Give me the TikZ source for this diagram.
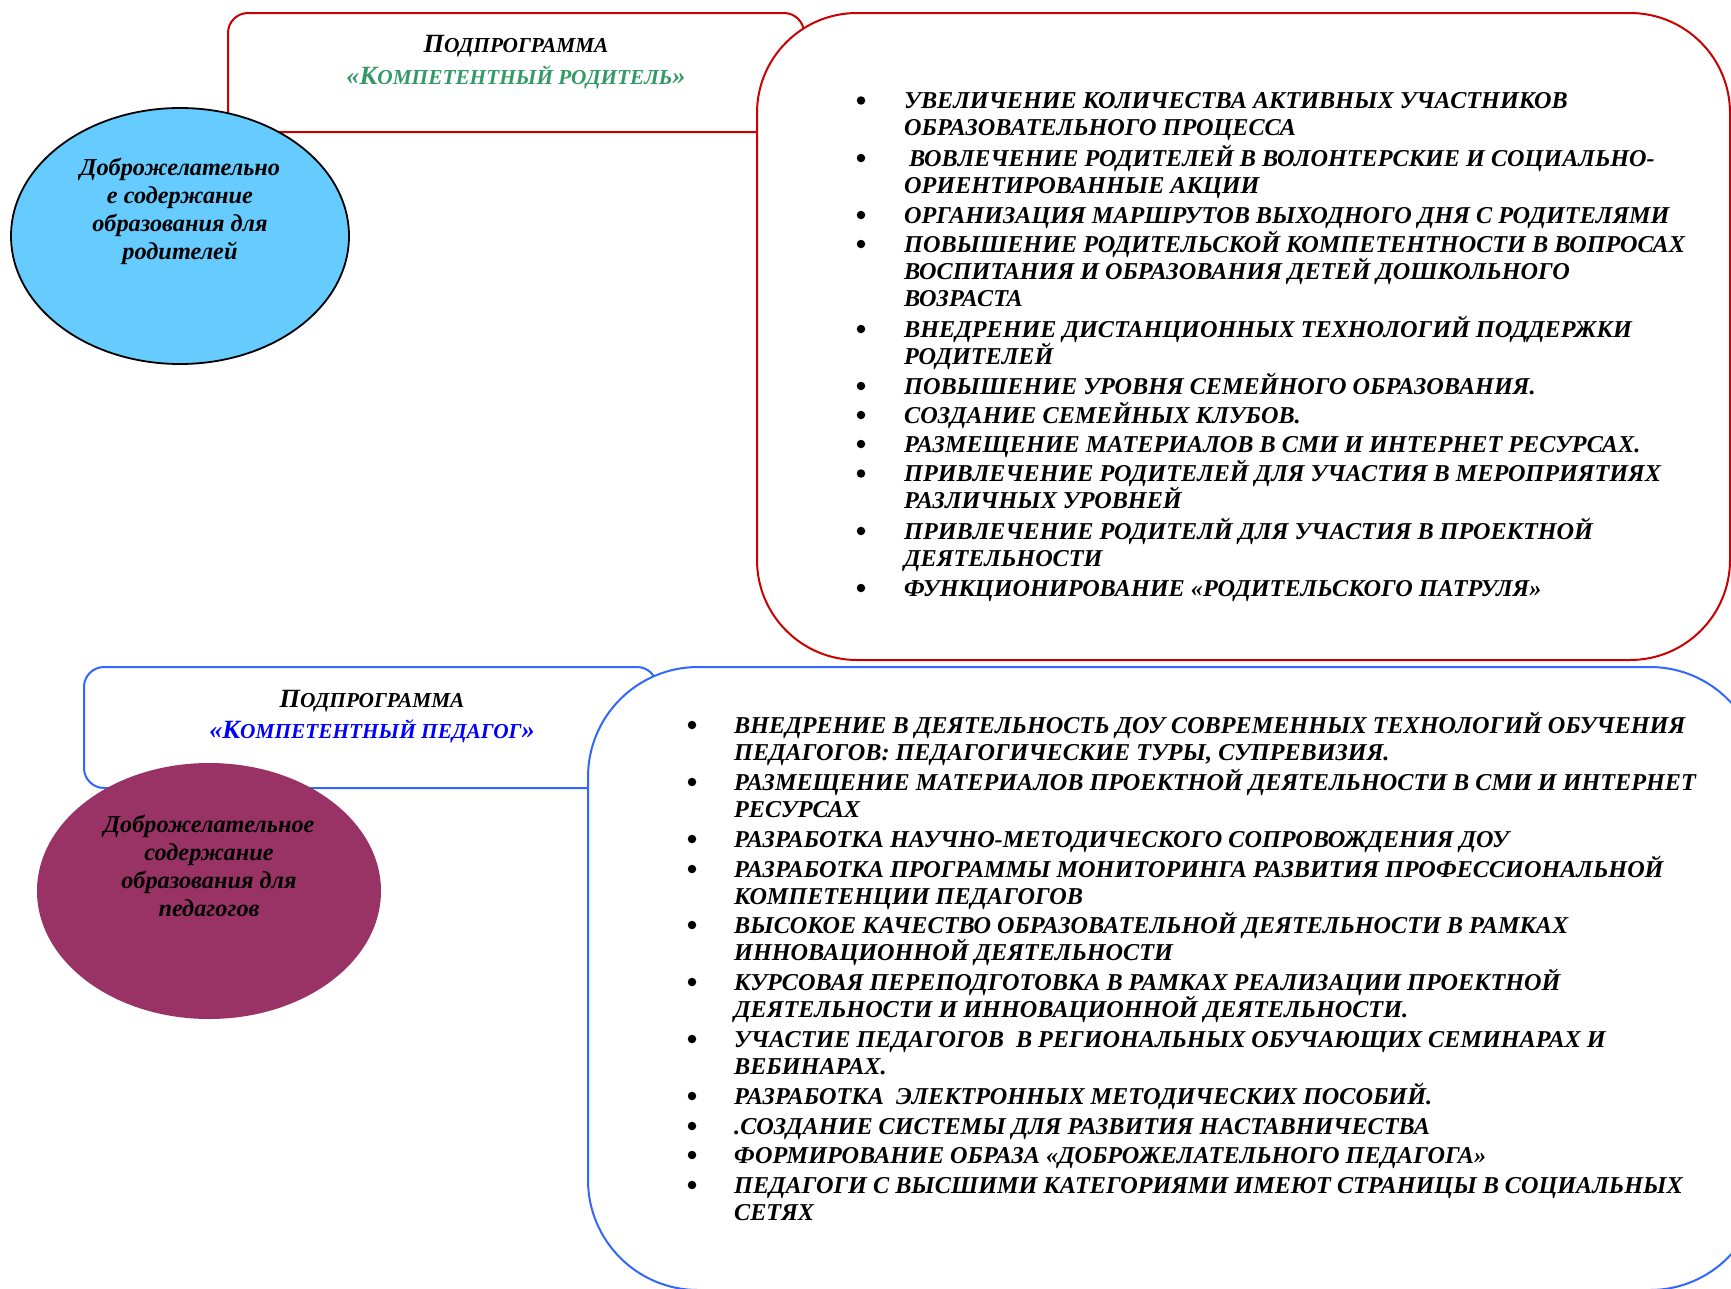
\documentclass[tikz,border=0pt]{standalone}
\usepackage{fontspec}
\setmainfont{Liberation Serif}
\usetikzlibrary{shapes.geometric}
\definecolor{redline}{RGB}{204,0,0}
\definecolor{blueline}{RGB}{51,102,255}
\definecolor{skyfill}{RGB}{102,204,255}
\definecolor{maroonfill}{RGB}{153,51,102}
\definecolor{greentxt}{RGB}{51,153,102}
\definecolor{bluetxt}{RGB}{0,0,255}
\newcommand\itemlines[1]{\parbox[t]{1200pt}{\raggedright #1}}
\newcommand\bigc[1]{{\fontsize{26.3}{26}\selectfont #1}}
\begin{document}
\begin{tikzpicture}[x=1pt,y=-1pt,
  every node/.style={inner sep=0pt},
  redbox/.style={draw=redline, line width=2pt, fill=white, rectangle},
  bluebox/.style={draw=blueline, line width=2pt, fill=white, rectangle},
  itemtxt/.style={anchor=base west, font=\fontsize{24.2}{27}\selectfont\bfseries\itshape},
  bul/.style={circle, fill=black, minimum size=8.5pt},
  titletxt/.style={anchor=base, font=\fontsize{21.3}{24}\selectfont\bfseries\itshape},
  elltxt/.style={align=center, font=\fontsize{24.3}{28}\selectfont\bfseries\itshape},
]
\useasboundingbox (0,0) rectangle (1731,1288);
% ---------- top block ----------
\node[redbox, rounded corners=20pt, minimum width=576pt, minimum height=119pt] (rsmall) at (516,72.5) {};
\node[redbox, rounded corners=100pt, minimum width=973pt, minimum height=647pt] (rbig) at (1243.5,336.5) {};
\node[ellipse, draw=black, line width=1.8pt, fill=skyfill, minimum width=338pt, minimum height=256pt] (e1) at (180,236) {};
\node[titletxt] (rt1) at (516,52) {\bigc{П}ОДПРОГРАММА};
\node[titletxt, text=greentxt] (rt2) at (516,84) {\bigc{«К}ОМПЕТЕНТНЫЙ РОДИТЕЛЬ\bigc{»}};
\node[elltxt] (et1) at (180,211) {Доброжелательно\\е содержание\\образования для\\родителей};

\node[itemtxt] (r1) at (904,108.5) {\itemlines{УВЕЛИЧЕНИЕ КОЛИЧЕСТВА АКТИВНЫХ УЧАСТНИКОВ\\ОБРАЗОВАТЕЛЬНОГО ПРОЦЕССА}};
\node[itemtxt] (r2) at (904,166) {\itemlines{\hspace*{5pt}ВОВЛЕЧЕНИЕ РОДИТЕЛЕЙ В ВОЛОНТЕРСКИЕ И СОЦИАЛЬНО-\\ОРИЕНТИРОВАННЫЕ АКЦИИ}};
\node[itemtxt] (r3) at (904,223) {\itemlines{ОРГАНИЗАЦИЯ МАРШРУТОВ ВЫХОДНОГО ДНЯ С РОДИТЕЛЯМИ}};
\node[itemtxt] (r4) at (904,252) {\itemlines{ПОВЫШЕНИЕ РОДИТЕЛЬСКОЙ КОМПЕТЕНТНОСТИ В ВОПРОСАХ\\ВОСПИТАНИЯ И ОБРАЗОВАНИЯ ДЕТЕЙ ДОШКОЛЬНОГО\\ВОЗРАСТА}};
\node[itemtxt] (r5) at (904,337) {\itemlines{ВНЕДРЕНИЕ ДИСТАНЦИОННЫХ ТЕХНОЛОГИЙ ПОДДЕРЖКИ\\РОДИТЕЛЕЙ}};
\node[itemtxt] (r6) at (904,394) {\itemlines{ПОВЫШЕНИЕ УРОВНЯ СЕМЕЙНОГО ОБРАЗОВАНИЯ.}};
\node[itemtxt] (r7) at (904,423) {\itemlines{СОЗДАНИЕ СЕМЕЙНЫХ КЛУБОВ.}};
\node[itemtxt] (r8) at (904,452) {\itemlines{РАЗМЕЩЕНИЕ МАТЕРИАЛОВ В СМИ И ИНТЕРНЕТ РЕСУРСАХ.}};
\node[itemtxt] (r9) at (904,481.5) {\itemlines{ПРИВЛЕЧЕНИЕ РОДИТЕЛЕЙ ДЛЯ УЧАСТИЯ В МЕРОПРИЯТИЯХ\\РАЗЛИЧНЫХ УРОВНЕЙ}};
\node[itemtxt] (r10) at (904,539) {\itemlines{ПРИВЛЕЧЕНИЕ РОДИТЕЛЙ ДЛЯ УЧАСТИЯ В ПРОЕКТНОЙ\\ДЕЯТЕЛЬНОСТИ}};
\node[itemtxt] (r11) at (904,596) {\itemlines{ФУНКЦИОНИРОВАНИЕ «РОДИТЕЛЬСКОГО ПАТРУЛЯ»}};
\foreach \i/\yy in {1/108.5,2/166,3/223,4/252,5/337,6/394,7/423,8/452,9/481.5,10/539,11/596}
  \node[bul] (rb\i) at (861,\yy-8) {};
% ---------- bottom block ----------
\node[bluebox, rounded corners=20pt, minimum width=573pt, minimum height=121pt] (bsmall) at (370.5,727.5) {};
\node[bluebox, rounded corners=110pt, minimum width=1172pt, minimum height=623pt] (bbig) at (1174,978.5) {};
\node[ellipse, fill=maroonfill, minimum width=344pt, minimum height=256pt] (e2) at (209,891) {};
\node[titletxt] (bt1) at (372,707) {\bigc{П}ОДПРОГРАММА};
\node[titletxt, text=bluetxt] (bt2) at (372,738) {\bigc{«К}ОМПЕТЕНТНЫЙ ПЕДАГОГ\bigc{»}};
\node[elltxt] (et2) at (209,865.5) {Доброжелательное\\содержание\\образования для\\педагогов};

\node[itemtxt] (p1) at (734,733) {\itemlines{ВНЕДРЕНИЕ В ДЕЯТЕЛЬНОСТЬ ДОУ СОВРЕМЕННЫХ ТЕХНОЛОГИЙ ОБУЧЕНИЯ\\ПЕДАГОГОВ: ПЕДАГОГИЧЕСКИЕ ТУРЫ, СУПРЕВИЗИЯ.}};
\node[itemtxt] (p2) at (734,790) {\itemlines{РАЗМЕЩЕНИЕ МАТЕРИАЛОВ ПРОЕКТНОЙ ДЕЯТЕЛЬНОСТИ В СМИ И ИНТЕРНЕТ\\РЕСУРСАХ}};
\node[itemtxt] (p3) at (734,847) {\itemlines{РАЗРАБОТКА НАУЧНО-МЕТОДИЧЕСКОГО СОПРОВОЖДЕНИЯ ДОУ}};
\node[itemtxt] (p4) at (734,877) {\itemlines{РАЗРАБОТКА ПРОГРАММЫ МОНИТОРИНГА РАЗВИТИЯ ПРОФЕССИОНАЛЬНОЙ\\КОМПЕТЕНЦИИ ПЕДАГОГОВ}};
\node[itemtxt] (p5) at (734,933) {\itemlines{ВЫСОКОЕ КАЧЕСТВО ОБРАЗОВАТЕЛЬНОЙ ДЕЯТЕЛЬНОСТИ В РАМКАХ\\ИННОВАЦИОННОЙ ДЕЯТЕЛЬНОСТИ}};
\node[itemtxt] (p6) at (734,990) {\itemlines{КУРСОВАЯ ПЕРЕПОДГОТОВКА В РАМКАХ РЕАЛИЗАЦИИ ПРОЕКТНОЙ\\ДЕЯТЕЛЬНОСТИ И ИННОВАЦИОННОЙ ДЕЯТЕЛЬНОСТИ.}};
\node[itemtxt] (p7) at (734,1047) {\itemlines{УЧАСТИЕ ПЕДАГОГОВ\ \ В РЕГИОНАЛЬНЫХ ОБУЧАЮЩИХ СЕМИНАРАХ И\\ВЕБИНАРАХ.}};
\node[itemtxt] (p8) at (734,1104) {\itemlines{РАЗРАБОТКА\ \ ЭЛЕКТРОННЫХ МЕТОДИЧЕСКИХ ПОСОБИЙ.}};
\node[itemtxt] (p9) at (734,1134) {\itemlines{.СОЗДАНИЕ СИСТЕМЫ ДЛЯ РАЗВИТИЯ НАСТАВНИЧЕСТВА}};
\node[itemtxt] (p10) at (734,1163) {\itemlines{ФОРМИРОВАНИЕ ОБРАЗА «ДОБРОЖЕЛАТЕЛЬНОГО ПЕДАГОГА»}};
\node[itemtxt] (p11) at (734,1193) {\itemlines{ПЕДАГОГИ С ВЫСШИМИ КАТЕГОРИЯМИ ИМЕЮТ СТРАНИЦЫ В СОЦИАЛЬНЫХ\\СЕТЯХ}};
\foreach \i/\yy in {1/733,2/790,3/847,4/877,5/933,6/990,7/1047,8/1104,9/1134,10/1163,11/1193}
  \node[bul] (pb\i) at (692,\yy-8) {};
\end{tikzpicture}
\end{document}
